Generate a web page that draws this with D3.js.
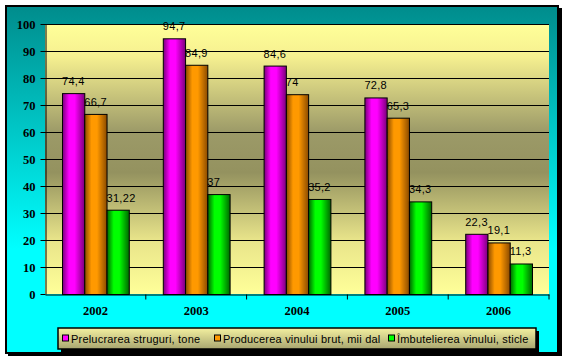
<!DOCTYPE html>
<html>
<head>
<meta charset="utf-8">
<script src="https://cdn.jsdelivr.net/npm/d3@7"></script>
<style>
  body { margin: 0; background: #ffffff; }
  svg { display: block; }
</style>
</head>
<body>
<div id="chart"></div>
<script>
// Data
const years = ["2002", "2003", "2004", "2005", "2006"];
const seriesNames = [
    "Prelucrarea struguri, tone",
    "Producerea vinului brut, mii dal",
    "Îmbutelierea vinului, sticle"
];
const prelucrare = [74.4, 94.7, 84.6, 72.8, 22.3];
const producere = [66.7, 84.9, 74, 65.3, 19.1];
const imbuteliere = [31.22, 37, 35.2, 34.3, 11.3];
const yTicks = [0, 10, 20, 30, 40, 50, 60, 70, 80, 90, 100];

const seriesValues = [prelucrare, producere, imbuteliere];
const seriesColors = [
    { dark: "#7a007a", mid: "#ff00ff" },
    { dark: "#8a4a00", mid: "#ff9900" },
    { dark: "#006600", mid: "#00ff00" }
];

const width = 565, height = 360;
const plot = { left: 45, right: 549, top: 24, bottom: 294 };

const svg = d3.select("#chart").append("svg")
    .attr("width", width)
    .attr("height", height);

const defs = svg.append("defs");

// outer background: dark teal to cyan
const bgGrad = defs.append("linearGradient").attr("id", "bg")
    .attr("x1", 0).attr("y1", 0).attr("x2", 0).attr("y2", 1);
bgGrad.append("stop").attr("offset", "0%").attr("stop-color", "#008c8c");
bgGrad.append("stop").attr("offset", "70%").attr("stop-color", "#00ffff");
bgGrad.append("stop").attr("offset", "100%").attr("stop-color", "#00ffff");

// plot background: yellow - olive - yellow
const plotGrad = defs.append("linearGradient").attr("id", "plotbg")
    .attr("x1", 0).attr("y1", 0).attr("x2", 0).attr("y2", 1);
[["0%", "#ffff99"], ["12%", "#f6f090"], ["40%", "#9c9a68"], ["55%", "#94925f"],
 ["80%", "#e8e48a"], ["100%", "#ffff99"]].forEach(s =>
    plotGrad.append("stop").attr("offset", s[0]).attr("stop-color", s[1]));

// legend background
const legGrad = defs.append("linearGradient").attr("id", "legbg")
    .attr("x1", 0).attr("y1", 0).attr("x2", 0).attr("y2", 1);
legGrad.append("stop").attr("offset", "0%").attr("stop-color", "#f4f0a0");
legGrad.append("stop").attr("offset", "100%").attr("stop-color", "#a8a670");

// cylinder-ish shading for bars
seriesColors.forEach((c, i) => {
    const g = defs.append("linearGradient").attr("id", "bar" + i)
        .attr("x1", 0).attr("y1", 0).attr("x2", 1).attr("y2", 0);
    g.append("stop").attr("offset", "0%").attr("stop-color", c.dark);
    g.append("stop").attr("offset", "30%").attr("stop-color", c.mid);
    g.append("stop").attr("offset", "55%").attr("stop-color", c.mid);
    g.append("stop").attr("offset", "100%").attr("stop-color", c.dark);
});

// frame with shadow
svg.append("rect").attr("x", 8).attr("y", 8).attr("width", 554).attr("height", 348)
    .attr("fill", "#000");
svg.append("rect").attr("x", 6).attr("y", 6).attr("width", 552).attr("height", 347)
    .attr("fill", "url(#bg)")
    .attr("stroke", "#000").attr("stroke-width", 2);

// scales
const x = d3.scaleBand().domain(years).range([plot.left, plot.right]);
const xs = d3.scaleBand().domain(d3.range(seriesNames.length))
    .range([17, x.bandwidth() - 17]);
const y = d3.scaleLinear().domain([0, 100]).range([plot.bottom, plot.top]);

svg.append("rect")
    .attr("x", plot.left).attr("y", plot.top)
    .attr("width", plot.right - plot.left).attr("height", plot.bottom - plot.top)
    .attr("fill", "url(#plotbg)");

// gridlines
svg.append("g").selectAll("line")
    .data(yTicks.filter(d => d > 0))
    .join("line")
    .attr("x1", plot.left).attr("x2", plot.right)
    .attr("y1", d => y(d) + 0.5).attr("y2", d => y(d) + 0.5)
    .attr("stroke", "#000").attr("stroke-width", 1);

// y axis
const yAxis = svg.append("g")
    .attr("transform", `translate(${plot.left + 0.5},0)`)
    .call(d3.axisLeft(y).tickValues(yTicks).tickSize(5).tickSizeOuter(0).tickPadding(5));
yAxis.selectAll("text")
    .attr("font-family", "'Liberation Serif', 'Times New Roman', serif")
    .attr("font-weight", "bold").attr("font-size", 12.5).attr("fill", "#000");
yAxis.select(".domain").attr("stroke", "#000");

// x axis
const xAxis = svg.append("g")
    .attr("transform", `translate(0,${plot.bottom + 0.5})`)
    .call(d3.axisBottom(x).tickSize(0).tickPadding(12));
xAxis.selectAll("text")
    .attr("font-family", "'Liberation Serif', 'Times New Roman', serif")
    .attr("font-weight", "bold").attr("font-size", 12.5).attr("fill", "#000");
xAxis.select(".domain").attr("stroke", "#000");
xAxis.append("g").selectAll("line")
    .data(years.slice(1).concat(["end"]))
    .join("line")
    .attr("x1", d => d === "end" ? plot.right : x(d))
    .attr("x2", d => d === "end" ? plot.right : x(d))
    .attr("y1", 0).attr("y2", 5)
    .attr("stroke", "#000");

// bars
const groups = svg.append("g").selectAll("g")
    .data(years)
    .join("g")
    .attr("transform", d => `translate(${x(d)},0)`);

groups.selectAll("rect")
    .data((d, i) => seriesValues.map((s, k) => ({ k, v: s[i] })))
    .join("rect")
    .attr("x", d => xs(d.k) + 0.5)
    .attr("y", d => y(d.v) + 0.5)
    .attr("width", xs.bandwidth())
    .attr("height", d => y(0) - y(d.v))
    .attr("fill", d => `url(#bar${d.k})`)
    .attr("stroke", "#000").attr("stroke-width", 1);

groups.selectAll("text")
    .data((d, i) => seriesValues.map((s, k) => ({ k, v: s[i] })))
    .join("text")
    .attr("x", d => xs(d.k))
    .attr("y", d => y(d.v) - 8)
    .attr("font-family", "'Liberation Sans', Arial, sans-serif")
    .attr("font-size", 11)
    .attr("letter-spacing", 0.3)
    .attr("fill", "#000")
    .text(d => String(d.v).replace(".", ","));

// legend
const leg = { x: 58, y: 328, w: 478, h: 21 };
svg.append("rect").attr("x", leg.x + 3).attr("y", leg.y + 3)
    .attr("width", leg.w).attr("height", leg.h).attr("fill", "#000");
svg.append("rect").attr("x", leg.x).attr("y", leg.y)
    .attr("width", leg.w).attr("height", leg.h)
    .attr("fill", "url(#legbg)").attr("stroke", "#000").attr("stroke-width", 1.5);

const legX = [62, 214, 388];
const legItems = svg.append("g").selectAll("g")
    .data(seriesNames)
    .join("g")
    .attr("transform", (d, i) => `translate(${legX[i]},${leg.y + leg.h / 2})`);
legItems.append("rect")
    .attr("x", 0.5).attr("y", -3.5).attr("width", 6).attr("height", 6)
    .attr("fill", (d, i) => seriesColors[i].mid)
    .attr("stroke", "#000");
legItems.append("text")
    .attr("x", 9).attr("y", 4)
    .attr("font-family", "'Liberation Sans', Arial, sans-serif")
    .attr("font-size", 11)
    .attr("letter-spacing", 0.2)
    .attr("fill", "#000")
    .text(d => d);
</script>
</body>
</html>
